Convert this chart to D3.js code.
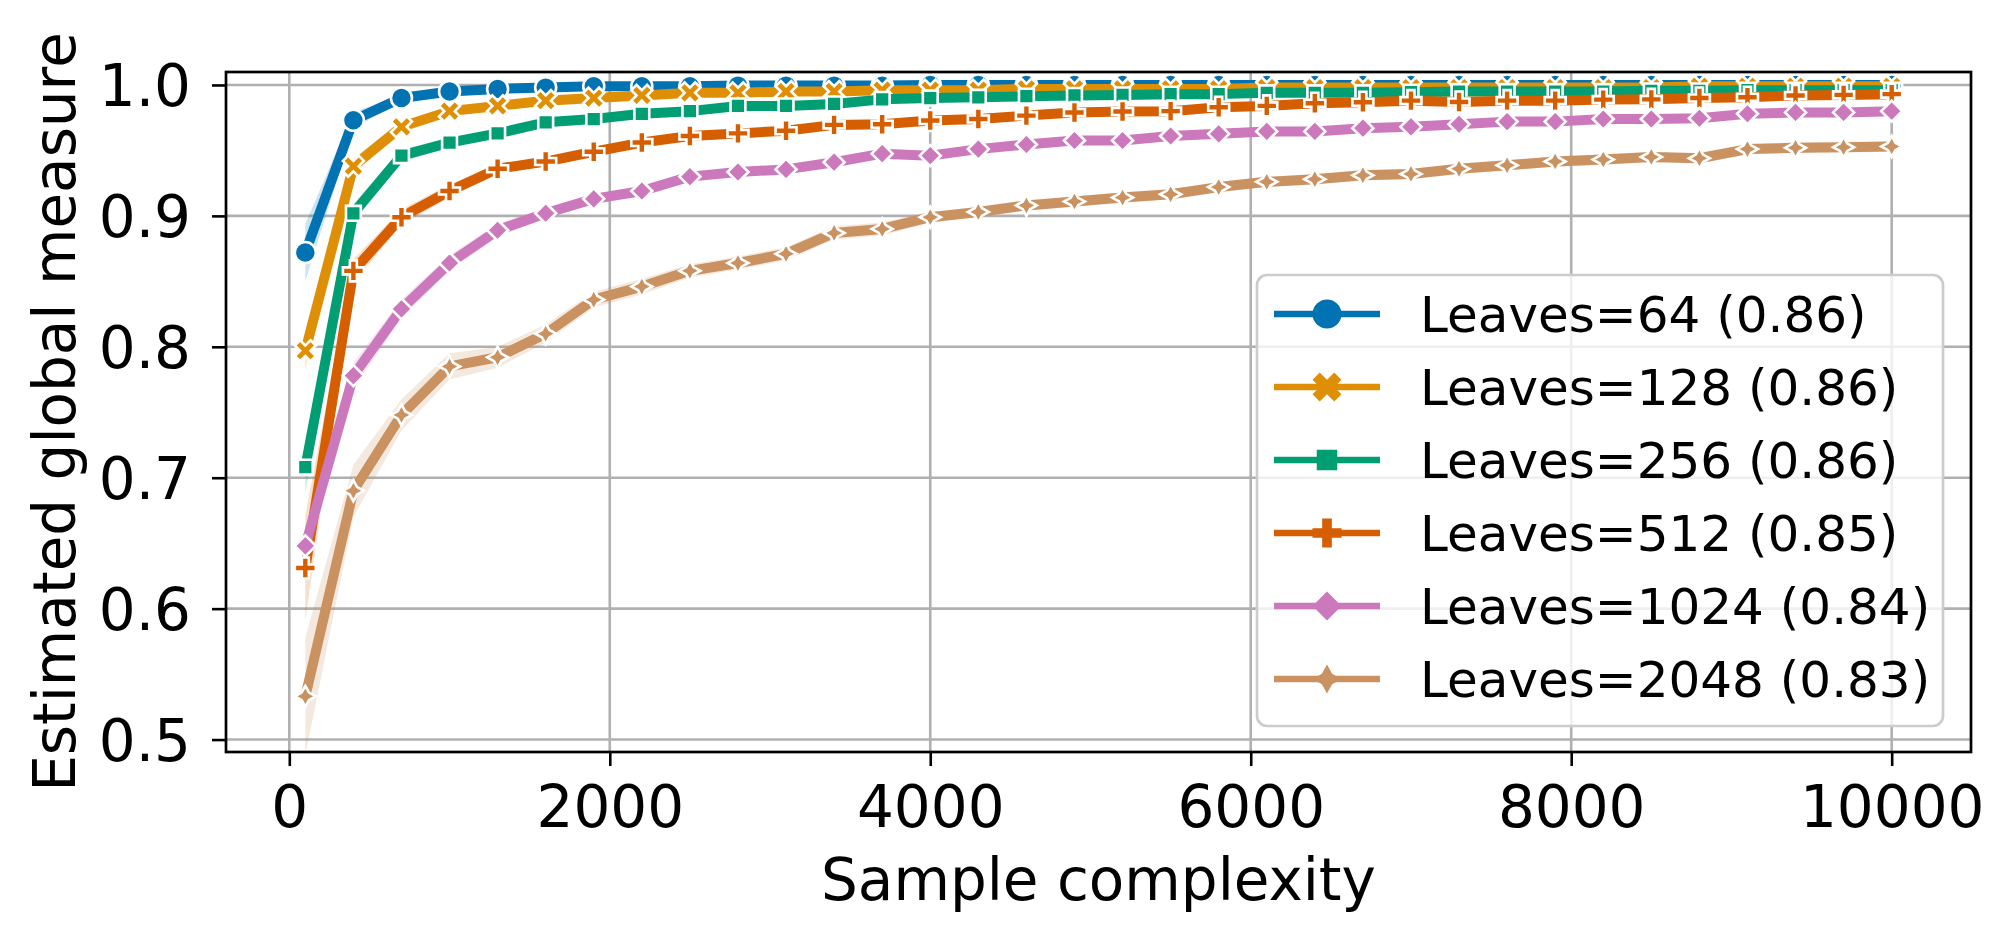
<!DOCTYPE html>
<html>
<head>
<meta charset="utf-8">
<script src="https://cdn.jsdelivr.net/npm/d3@7"></script>
<style>
  html, body { margin: 0; padding: 0; background: #fff; }
  svg { display: block; }
  text { font-family: "DejaVu Sans", sans-serif; fill: #000; }
</style>
</head>
<body>
<svg id="chart" width="2016" height="943"></svg>
<script>
// sample sizes on the x axis
const samples = [100, 400, 700, 1000, 1300, 1600, 1900, 2200, 2500, 2800, 3100, 3400,
  3700, 4000, 4300, 4600, 4900, 5200, 5500, 5800, 6100, 6400, 6700, 7000, 7300,
  7600, 7900, 8200, 8500, 8800, 9100, 9400, 9700, 10000];

const seriesNames = ['Leaves=64 (0.86)', 'Leaves=128 (0.86)', 'Leaves=256 (0.86)',
  'Leaves=512 (0.85)', 'Leaves=1024 (0.84)', 'Leaves=2048 (0.83)'];

// estimated global measure per leaves setting
const leaves64 = [.872, .973, .990, .995, .997, .998, .999, .999, .999, .9995, .9995, .9995,
  .9995, 1.0, 1.0, 1.0, 1.0, 1.0, 1.0, 1.0, 1.0, 1.0, 1.0, 1.0, 1.0,
  1.0, 1.0, 1.0, 1.0, 1.0, 1.0, 1.0, 1.0, 1.0];
const leaves128 = [.797, .938, .968, .980, .984, .988, .990, .992, .994, .994, .995, .995,
  .996, .996, .996, .997, .997, .997, .997, .997, .998, .998, .998, .998, .998,
  .998, .998, .998, .998, .999, .999, .999, .999, .999];
const leaves256 = [.708, .902, .946, .956, .963, .9715, .974, .978, .980, .984, .984, .9855,
  .989, .990, .9906, .9914, .992, .9924, .993, .993, .994, .994, .994, .9945, .995,
  .995, .995, .995, .9955, .9955, .996, .996, .996, .996];
const leaves512 = [.631, .858, .899, .919, .936, .9415, .949, .956, .961, .963, .965, .9695,
  .970, .9728, .974, .9766, .979, .9797, .980, .983, .984, .986, .9868, .988, .987,
  .988, .988, .9888, .989, .990, .9906, .992, .9924, .993];
const leaves1024 = [.648, .778, .829, .864, .889, .902, .913, .919, .930, .9335, .9355, .941,
  .9475, .946, .951, .9545, .9576, .9576, .961, .9627, .9645, .9645, .967, .968, .970,
  .972, .972, .974, .974, .9746, .978, .979, .979, .980];
const leaves2048 = [.533, .690, .748, .785, .792, .810, .836, .846, .858, .864, .871, .887,
  .890, .899, .903, .908, .911, .914, .9165, .922, .926, .928, .931, .932, .936,
  .9386, .9416, .943, .945, .944, .951, .952, .9525, .953];

// half width of the confidence band
const band64 = [.022, .006, .003, .002, .002, .001, .001, .001, .001, .001, .001, .001,
  .001, .001, .001, .001, .001, .001, .001, .001, .001, .001, .001, .001, .001,
  .001, .001, .001, .001, .001, .001, .001, .001, .001];
const band128 = [.015, .006, .004, .003, .002, .002, .002, .001, .001, .001, .001, .001,
  .001, .001, .001, .001, .001, .001, .001, .001, .001, .001, .001, .001, .001,
  .001, .001, .001, .001, .001, .001, .001, .001, .001];
const band256 = [.02, .007, .005, .003, .003, .002, .002, .002, .002, .002, .002, .002,
  .002, .002, .002, .002, .002, .002, .002, .002, .002, .002, .002, .002, .002,
  .002, .002, .002, .002, .002, .002, .002, .002, .002];
const band512 = [.04, .009, .006, .005, .004, .003, .003, .003, .003, .003, .003, .003,
  .003, .003, .003, .003, .003, .003, .003, .003, .002, .002, .002, .002, .002,
  .002, .002, .002, .002, .002, .002, .002, .002, .002];
const band1024 = [.015, .01, .007, .006, .005, .004, .004, .004, .003, .003, .003, .003,
  .003, .003, .003, .003, .003, .003, .003, .003, .003, .003, .003, .003, .003,
  .003, .003, .003, .003, .003, .003, .003, .003, .003];
const band2048 = [.045, .02, .012, .01, .008, .007, .006, .006, .005, .005, .005, .005,
  .005, .004, .004, .004, .004, .004, .004, .004, .004, .004, .004, .004, .004,
  .004, .004, .004, .004, .004, .004, .004, .004, .004];

const xTicks = [0, 2000, 4000, 6000, 8000, 10000];
const yTicks = [0.5, 0.6, 0.7, 0.8, 0.9, 1.0];

const colors = ['#0173b2', '#de8f05', '#029e73', '#d55e00', '#cc78bc', '#ca9161'];
const markers = ['circle', 'x', 'square', 'plus', 'diamond', 'star'];

const values = [leaves64, leaves128, leaves256, leaves512, leaves1024, leaves2048];
const bands = [band64, band128, band256, band512, band1024, band2048];

const series = seriesNames.map((name, i) => ({
  name,
  color: colors[i],
  marker: markers[i],
  points: samples.map((s, j) => ({ x: s, y: values[i][j], h: bands[i][j] }))
}));

// layout of the axes box
const plotLeft = 226, plotRight = 1971, plotTop = 72, plotBottom = 752;

const x = d3.scaleLinear().domain([-395, 10495]).range([plotLeft, plotRight]);
const y = d3.scaleLinear().domain([0.4905, 1.0099]).range([plotBottom, plotTop]);

const svg = d3.select('#chart');

// marker paths, ms = marker size in px (matplotlib style)
function markerPath(type, ms) {
  const r = ms / 2;
  const poly = pts => 'M' + pts.map(p => p[0] + ',' + p[1]).join('L') + 'Z';
  switch (type) {
    case 'circle':
      return d3.symbol(d3.symbolCircle, Math.PI * r * r)();
    case 'square': {
      const h = ms / (2 * Math.SQRT2);
      return poly([[-h, -h], [h, -h], [h, h], [-h, h]]);
    }
    case 'diamond':
      return poly([[0, -r], [r, 0], [0, r], [-r, 0]]);
    case 'star': {
      const pts = [];
      for (let k = 0; k < 8; k++) {
        const a = -Math.PI / 2 + k * Math.PI / 4;
        const rr = k % 2 === 0 ? r : r * 0.5;
        pts.push([rr * Math.cos(a), rr * Math.sin(a)]);
      }
      return poly(pts);
    }
    case 'plus': {
      const s = ms / 6;
      return poly([[-1, -3], [1, -3], [1, -1], [3, -1], [3, 1], [1, 1],
        [1, 3], [-1, 3], [-1, 1], [-3, 1], [-3, -1], [-1, -1]].map(p => [p[0] * s, p[1] * s]));
    }
    case 'x': {
      const s = ms / 4;
      return poly([[-1, -2], [0, -1], [1, -2], [2, -1], [1, 0], [2, 1],
        [1, 2], [0, 1], [-1, 2], [-2, 1], [-1, 0], [-2, -1]].map(p => [p[0] * s, p[1] * s]));
    }
  }
}

svg.append('defs').append('clipPath').attr('id', 'plot-clip')
  .append('rect')
  .attr('x', plotLeft).attr('y', plotTop)
  .attr('width', plotRight - plotLeft).attr('height', plotBottom - plotTop);

// grid
const grid = svg.append('g').attr('class', 'grid');
grid.selectAll('.vgrid')
  .data(xTicks)
  .enter()
  .append('line')
  .attr('x1', d => x(d)).attr('x2', d => x(d))
  .attr('y1', plotTop).attr('y2', plotBottom)
  .attr('stroke', '#b0b0b0')
  .attr('stroke-width', 2.6);
grid.selectAll('.hgrid')
  .data(yTicks)
  .enter()
  .append('line')
  .attr('x1', plotLeft).attr('x2', plotRight)
  .attr('y1', d => y(d)).attr('y2', d => y(d))
  .attr('stroke', '#b0b0b0')
  .attr('stroke-width', 2.6);

const plot = svg.append('g').attr('clip-path', 'url(#plot-clip)');

// confidence bands underneath every line
const area = d3.area()
  .x(d => x(d.x))
  .y0(d => y(d.y - d.h))
  .y1(d => y(d.y + d.h));

plot.selectAll('.band')
  .data(series)
  .enter()
  .append('path')
  .attr('class', 'band')
  .attr('d', d => area(d.points))
  .attr('fill', d => d.color)
  .attr('fill-opacity', 0.2)
  .attr('stroke', 'none');

// lines with markers
const line = d3.line().x(d => x(d.x)).y(d => y(d.y));

const groups = plot.selectAll('.series')
  .data(series)
  .enter()
  .append('g')
  .attr('class', 'series');

groups.append('path')
  .attr('d', d => line(d.points))
  .attr('fill', 'none')
  .attr('stroke', d => d.color)
  .attr('stroke-width', 10)
  .attr('stroke-linejoin', 'round')
  .attr('stroke-linecap', 'butt');

groups.each(function (s) {
  d3.select(this).selectAll('.mk')
    .data(s.points)
    .enter()
    .append('path')
    .attr('class', 'mk')
    .attr('transform', d => `translate(${x(d.x)},${y(d.y)})`)
    .attr('d', markerPath(s.marker, 21))
    .attr('fill', s.color)
    .attr('stroke', '#fff')
    .attr('stroke-width', 2.6)
    .attr('stroke-linejoin', 'miter');
});

// axes
const xAxis = svg.append('g')
  .attr('transform', `translate(0,${plotBottom})`)
  .call(d3.axisBottom(x).tickValues(xTicks).tickFormat(d3.format('d')).tickSize(14).tickPadding(10));
const yAxis = svg.append('g')
  .attr('transform', `translate(${plotLeft},0)`)
  .call(d3.axisLeft(y).tickValues(yTicks).tickFormat(d3.format('.1f')).tickSize(14).tickPadding(21));

[xAxis, yAxis].forEach(a => {
  a.select('.domain').remove();
  a.selectAll('.tick line').attr('stroke', '#000').attr('stroke-width', 2.6);
  a.selectAll('.tick text').attr('font-size', 58).attr('fill', '#000');
});
xAxis.selectAll('.tick text').attr('dy', null).attr('y', 75);
yAxis.selectAll('.tick text').attr('dy', '0.36em');

// frame
svg.append('rect')
  .attr('x', plotLeft).attr('y', plotTop)
  .attr('width', plotRight - plotLeft).attr('height', plotBottom - plotTop)
  .attr('fill', 'none')
  .attr('stroke', '#000')
  .attr('stroke-width', 2.7);

// axis titles
svg.append('text')
  .attr('x', (plotLeft + plotRight) / 2)
  .attr('y', 900)
  .attr('text-anchor', 'middle')
  .attr('font-size', 58)
  .text('Sample complexity');

svg.append('text')
  .attr('transform', `translate(75,${(plotTop + plotBottom) / 2}) rotate(-90)`)
  .attr('text-anchor', 'middle')
  .attr('font-size', 58)
  .text('Estimated global measure');

// legend
const legend = svg.append('g').attr('class', 'legend');
legend.append('rect')
  .attr('x', 1257).attr('y', 275)
  .attr('width', 1943 - 1257).attr('height', 726 - 275)
  .attr('rx', 10).attr('ry', 10)
  .attr('fill', '#fff').attr('fill-opacity', 0.8)
  .attr('stroke', '#cccccc').attr('stroke-width', 2.7);

const rowH = 73;
const items = legend.selectAll('.item')
  .data(series)
  .enter()
  .append('g')
  .attr('class', 'item')
  .attr('transform', (d, i) => `translate(0,${314 + i * rowH})`);

items.append('line')
  .attr('x1', 1274).attr('x2', 1380)
  .attr('y1', 0).attr('y2', 0)
  .attr('stroke', d => d.color)
  .attr('stroke-width', 6.7);

items.append('path')
  .attr('transform', 'translate(1327,0)')
  .attr('d', d => markerPath(d.marker, 29))
  .attr('fill', d => d.color)
  .attr('stroke', 'none');

items.append('text')
  .attr('x', 1420)
  .attr('y', 18.2)
  .attr('font-size', 50)
  .text(d => d.name);
</script>
</body>
</html>
